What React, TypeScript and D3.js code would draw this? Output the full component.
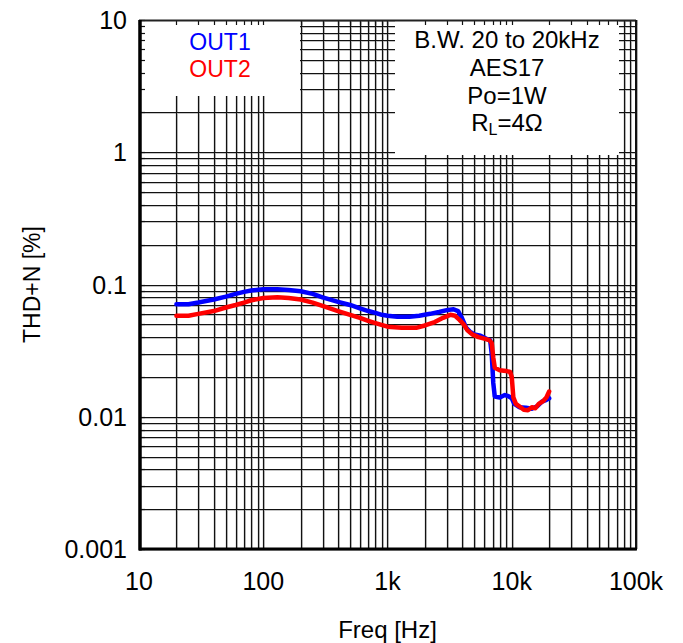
import React from "react";
import * as d3 from "d3";

// ---- Data ----
const FREQ_OUT1 = [20, 25, 30, 40, 50, 60, 70, 80, 100, 130, 160, 200, 250, 300, 400, 500, 600, 700, 800, 900, 1000, 1200, 1500, 1800, 2200, 2600, 3000, 3400, 3700, 4000, 4300, 4600, 5000, 5600, 6200, 6700, 6900, 7100, 7300, 8000, 8800, 9400, 10000, 10500, 11500, 13000, 14500, 16000, 17500, 19000, 20000];
const THD_OUT1 = [0.071, 0.071, 0.073, 0.077, 0.081, 0.085, 0.088, 0.09, 0.092, 0.092, 0.091, 0.089, 0.085, 0.08, 0.074, 0.07, 0.066, 0.063, 0.061, 0.059, 0.058, 0.057, 0.057, 0.058, 0.06, 0.062, 0.064, 0.065, 0.063, 0.055, 0.047, 0.044, 0.042, 0.041, 0.039, 0.038, 0.03, 0.018, 0.0142, 0.014, 0.0146, 0.0143, 0.0138, 0.0125, 0.0118, 0.0117, 0.0115, 0.012, 0.013, 0.0134, 0.0138];

const FREQ_OUT2 = [20, 25, 30, 40, 50, 60, 70, 80, 100, 130, 160, 200, 250, 300, 400, 500, 600, 700, 800, 1000, 1300, 1700, 2000, 2400, 2800, 3200, 3500, 3800, 4100, 4400, 4800, 5400, 6000, 6600, 6900, 7100, 7300, 8000, 9000, 9700, 10000, 10300, 10800, 11500, 12500, 13500, 14500, 15500, 16500, 18000, 19000, 20000];
const THD_OUT2 = [0.058, 0.058, 0.06, 0.063, 0.067, 0.07, 0.073, 0.076, 0.079, 0.08, 0.079, 0.077, 0.073, 0.069, 0.063, 0.059, 0.056, 0.053, 0.051, 0.048, 0.047, 0.047, 0.049, 0.052, 0.056, 0.059, 0.058, 0.054, 0.05, 0.045, 0.042, 0.04, 0.039, 0.038, 0.036, 0.028, 0.0235, 0.0225, 0.0222, 0.0218, 0.02, 0.014, 0.0125, 0.012, 0.0113, 0.0112, 0.0118, 0.0116, 0.0125, 0.0132, 0.014, 0.0155];

const X_TICKS = [10, 100, 1000, 10000, 100000];
const X_TICK_LABELS = ["10", "100", "1k", "10k", "100k"];
const Y_TICKS = [0.001, 0.01, 0.1, 1, 10];
const Y_TICK_LABELS = ["0.001", "0.01", "0.1", "1", "10"];
const SERIES_NAMES = ["OUT1", "OUT2"];
const SERIES_COLORS = ["#0000ff", "#ff0000"];
const NOTE_LINES = ["B.W. 20 to 20kHz", "AES17", "Po=1W"];
const X_TITLE = "Freq [Hz]";
const Y_TITLE = "THD+N [%]";

const W = 683;
const H = 643;
const L = 139, R = 636, T = 20, B = 549;
const FONT = "'Liberation Sans', Arial, sans-serif";

export default function App() {
  const x = d3.scaleLog().domain([10, 100000]).range([L, R]);
  const y = d3.scaleLog().domain([0.001, 10]).range([B, T]);

  const xGrid: number[] = [];
  for (const d of [10, 100, 1000, 10000]) for (let k = 1; k <= 9; k++) xGrid.push(d * k);
  xGrid.push(100000);
  const yGrid: number[] = [];
  for (const d of [0.001, 0.01, 0.1, 1]) for (let k = 1; k <= 9; k++) yGrid.push(d * k);
  yGrid.push(10);

  const px = (v: number) => Math.round(x(v)) + 0.5;
  const py = (v: number) => Math.round(y(v)) + 0.5;

  const line = d3
    .line<[number, number]>()
    .x((d) => x(d[0]))
    .y((d) => y(d[1]));

  const s1: [number, number][] = FREQ_OUT1.map((f, i) => [f, THD_OUT1[i]]);
  const s2: [number, number][] = FREQ_OUT2.map((f, i) => [f, THD_OUT2[i]]);

  return (
    <svg
      width={W}
      height={H}
      style={{ position: "absolute", left: 0, top: 0, background: "#fff" }}
      fontFamily={FONT}
    >
      <rect x={0} y={0} width={W} height={H} fill="#fff" />
      {/* grid shadows */}
      <g stroke="#c4c4c4" strokeWidth={1}>
        {xGrid.map((v, i) => (
          <line key={"xs" + i} x1={px(v) + 1} x2={px(v) + 1} y1={T} y2={B} />
        ))}
        {yGrid.map((v, i) => (
          <line key={"ys" + i} x1={L} x2={R} y1={py(v) + 1} y2={py(v) + 1} />
        ))}
      </g>
      {/* grid */}
      <g stroke="#111" strokeWidth={1.2}>
        {xGrid.map((v, i) => (
          <line key={"xg" + i} x1={px(v)} x2={px(v)} y1={T} y2={B} />
        ))}
        {yGrid.map((v, i) => (
          <line key={"yg" + i} x1={L} x2={R} y1={py(v)} y2={py(v)} />
        ))}
      </g>
      {/* legend boxes */}
      <rect x={L} y={T} width={300 - L} height={96 - T} fill="#fff" />
      <rect x={395} y={T} width={619 - 395} height={155 - T} fill="#fff" />
      {/* inner ticks */}
      <g stroke="#111" strokeWidth={1.2}>
        {xGrid.map((v, i) => (
          <line key={"xt" + i} x1={px(v)} x2={px(v)} y1={T} y2={T + 5} />
        ))}
        {yGrid.map((v, i) => (
          <line key={"yt" + i} x1={L} x2={L + 6} y1={py(v)} y2={py(v)} />
        ))}
      </g>
      {/* curves */}
      <path d={line(s1) || ""} fill="none" stroke={SERIES_COLORS[0]} strokeWidth={4.5} strokeLinejoin="round" strokeLinecap="round" />
      <path d={line(s2) || ""} fill="none" stroke={SERIES_COLORS[1]} strokeWidth={4.5} strokeLinejoin="round" strokeLinecap="round" />
      {/* frame */}
      <line x1={L} x2={R} y1={T + 0.5} y2={T + 0.5} stroke="#222" strokeWidth={2} />
      <line x1={R} x2={R} y1={T} y2={B} stroke="#111" strokeWidth={2} />
      <line x1={L + 1} x2={L + 1} y1={T} y2={B + 1.5} stroke="#000" strokeWidth={3.5} />
      <line x1={L} x2={R + 1} y1={B} y2={B} stroke="#000" strokeWidth={3} />
      {/* tick labels */}
      <g fontSize={25} fill="#000">
        {X_TICKS.map((v, i) => (
          <text key={"xl" + i} x={x(v)} y={590} textAnchor="middle">
            {X_TICK_LABELS[i]}
          </text>
        ))}
        {Y_TICKS.map((v, i) => (
          <text key={"yl" + i} x={127} y={y(v) + 9} textAnchor="end">
            {Y_TICK_LABELS[i]}
          </text>
        ))}
      </g>
      {/* axis titles */}
      <text x={(L + R) / 2} y={638} textAnchor="middle" fontSize={24}>
        {X_TITLE}
      </text>
      <text transform={`translate(40, ${(T + B) / 2}) rotate(-90)`} textAnchor="middle" fontSize={23}>
        {Y_TITLE}
      </text>
      {/* legend */}
      <g fontSize={23} textAnchor="middle">
        {SERIES_NAMES.map((n, i) => (
          <text key={n} x={220} y={50 + i * 27} fill={SERIES_COLORS[i]}>
            {n}
          </text>
        ))}
      </g>
      {/* notes */}
      <g fontSize={24} textAnchor="middle" fill="#000">
        {NOTE_LINES.map((t, i) => (
          <text key={t} x={507} y={48 + i * 27.8}>
            {t}
          </text>
        ))}
        <text x={507} y={48 + 3 * 27.8}>
          R<tspan fontSize={16} dy={4}>L</tspan>
          <tspan dy={-4}>=4Ω</tspan>
        </text>
      </g>
    </svg>
  );
}
